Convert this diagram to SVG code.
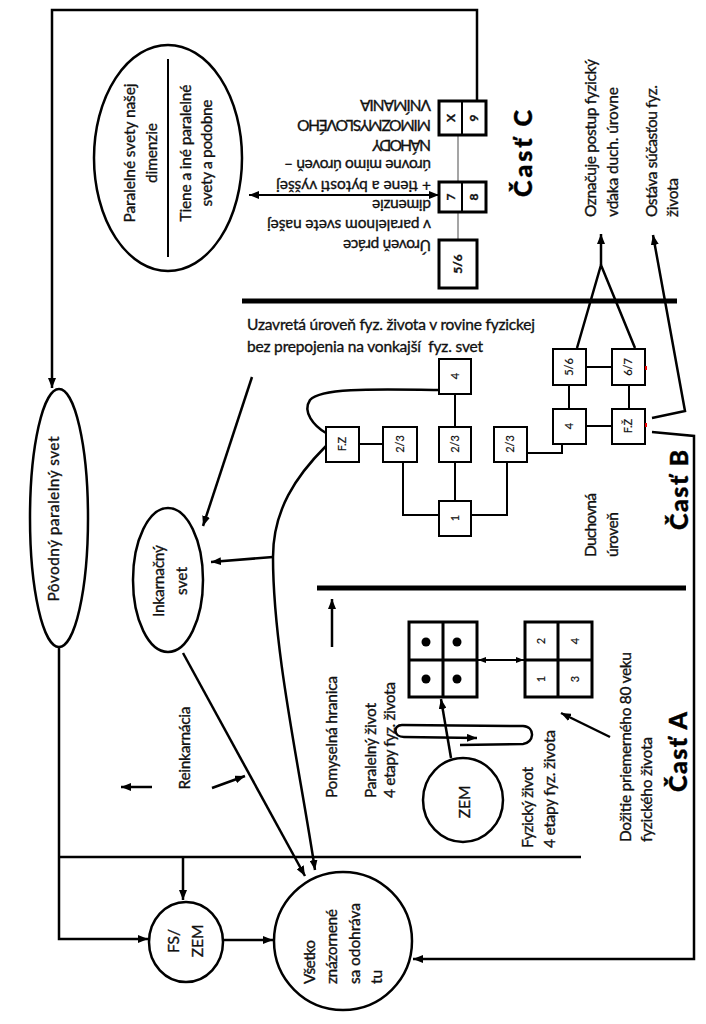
<svg xmlns="http://www.w3.org/2000/svg" width="706" height="1024" viewBox="0 0 706 1024">
<defs>
<marker id="a" markerUnits="userSpaceOnUse" markerWidth="10" markerHeight="8" refX="10" refY="4" orient="auto-start-reverse" viewBox="0 0 10 8"><path d="M0,0L10,4L0,8z" fill="#000"/></marker>
<marker id="s" markerUnits="userSpaceOnUse" markerWidth="8" markerHeight="6" refX="8" refY="3" orient="auto-start-reverse" viewBox="0 0 8 6"><path d="M0,0L8,3L0,6z" fill="#000"/></marker>
</defs>
<style>
.t{font-family:Lato,"Liberation Sans",sans-serif;font-size:15.5px;fill:#111;stroke:#111;stroke-width:0.35}
.h{font-weight:900;font-size:25px;fill:#000;stroke:#000;stroke-width:0.4}
.bl{font-size:11px;stroke-width:0.2}
.bc{font-size:12px;font-weight:bold}
.ln{fill:none;stroke:#000;stroke-width:2}
.lw{fill:none;stroke:#000;stroke-width:2.5}
.thk{fill:none;stroke:#000;stroke-width:5}
.gr{fill:none;stroke:#888;stroke-width:1.5}
.box{fill:#fff;stroke:#000;stroke-width:2}
.boxc{fill:#fff;stroke:#000;stroke-width:3}
.el{fill:#fff;stroke:#000;stroke-width:2.5}
</style>
<rect width="706" height="1024" fill="#fff"/>

<g id="connectors">
<path class="lw" d="M477,101L477,10L52,10L52,388" marker-end="url(#a)"/>
<path class="ln" d="M249,195L439,195" marker-start="url(#a)" marker-end="url(#a)"/>
<path class="gr" d="M458,135L458,182M458,212L458,240"/>
<path class="thk" d="M242,301L677,301"/>
<path class="lw" d="M577,348L601,265L635,348"/>
<path class="lw" d="M601,265L601,234" marker-end="url(#a)"/>
<path class="lw" d="M652,418L685,411L653,235" marker-end="url(#a)"/>
<path class="lw" d="M652,432L694,436L694,959L413,959" marker-end="url(#a)"/>
<path class="ln" d="M359,444L383,444M455,394L455,427M455,462L455,501M403,462L403,515L439,515M507,462L507,515L471,515M527,453L562,453L562,444M586,426L612,426M569,409L569,385M629,409L629,385M586,367L612,367"/>
<path class="lw" d="M438,390C370,389 320,388 310,400C302,412 314,426 326,433"/>
<path class="lw" d="M326,446C296,476 273,510 273,557C273,650 300,770 315,870" marker-end="url(#a)"/>
<path class="lw" d="M273,557L211,562" marker-end="url(#a)"/>
<path class="lw" d="M252,377L203,526" marker-end="url(#a)"/>
<path class="lw" d="M183,653L305,876" marker-end="url(#a)"/>
<path class="lw" d="M59,647L59,939L148,939" marker-end="url(#a)"/>
<path class="lw" d="M59,857L581,857"/>
<path class="lw" d="M183,857L183,900" marker-end="url(#a)"/>
<path class="lw" d="M223,940L273,940" marker-end="url(#a)"/>
<path class="thk" d="M317,588L686,588"/>
<path class="lw" d="M332,647L332,599" marker-end="url(#a)"/>
<path class="ln" d="M478,660L524,660" marker-start="url(#s)" marker-end="url(#s)"/>
<path class="lw" d="M451,758L441,699" marker-end="url(#a)"/>
<path class="lw" d="M460,745L523,744C534,743 536,727 523,726L402,725C393,725 393,737 404,737L477,738" marker-end="url(#a)"/>
<path class="lw" d="M610,737L561,713" marker-end="url(#a)"/>
<path class="lw" d="M152,787L121,787" marker-end="url(#a)"/>
<path class="lw" d="M212,788L245,776" marker-end="url(#a)"/>
</g>

<g id="paralelne-svety">
<ellipse class="el" cx="168" cy="158" rx="74" ry="113"/>
<path class="ln" d="M168,59L168,257"/>
<text class="t" transform="translate(135,153) rotate(-90)" text-anchor="middle" textLength="139">Paralelné svety našej</text>
<text class="t" transform="translate(157,153) rotate(-90)" text-anchor="middle" textLength="60">dimenzie</text>
<text class="t" transform="translate(191,153) rotate(-90)" text-anchor="middle" textLength="137">Tiene a iné paralelné</text>
<text class="t" transform="translate(212,153) rotate(-90)" text-anchor="middle" textLength="107">svety a podobne</text>
</g>

<g id="box-x9">
<rect class="boxc" x="439" y="101" width="47" height="34"/>
<path class="ln" d="M462,101L462,135"/>
<text class="t bc" transform="translate(455,118) rotate(-90)" text-anchor="middle">X</text>
<text class="t bc" transform="translate(478,118) rotate(-90)" text-anchor="middle">9</text>
</g>
<g id="box-78">
<rect class="boxc" x="439" y="182" width="47" height="30"/>
<path class="ln" d="M462,182L462,212"/>
<text class="t bc" transform="translate(455,197) rotate(-90)" text-anchor="middle">7</text>
<text class="t bc" transform="translate(478,197) rotate(-90)" text-anchor="middle">8</text>
</g>
<g id="box-c56">
<rect class="boxc" x="439" y="240" width="38" height="48"/>
<text class="t bc" transform="translate(462,264) rotate(-90)" text-anchor="middle">5/6</text>
</g>
<g id="text-cast-c">
<text class="t" transform="translate(431,100) rotate(180)" textLength="71">VNÍMANIA</text>
<text class="t" transform="translate(431,120) rotate(180)" textLength="134">MIMOZMYSLOVÉHO</text>
<text class="t" transform="translate(431,140) rotate(180)" textLength="59">NÁHODY</text>
<text class="t" transform="translate(431,160) rotate(180)" textLength="147">úrovne mimo úroveň –</text>
<text class="t" transform="translate(431,181) rotate(180)" textLength="155">+ tiene a bytosti vyššej</text>
<text class="t" transform="translate(431,200) rotate(180)" textLength="59">dimenzie</text>
<text class="t" transform="translate(431,220) rotate(180)" textLength="164">v paralelnom svete našej</text>
<text class="t" transform="translate(431,240) rotate(180)" textLength="88">Úroveň práce</text>
<text class="t h" transform="translate(532,197) rotate(-90)" textLength="87">Časť C</text>
</g>
<g id="text-oznacuje">
<text class="t" transform="translate(596,217) rotate(-90)" textLength="158">Označuje postup fyzický</text>
<text class="t" transform="translate(618,217) rotate(-90)" textLength="130">vďaka duch. úrovne</text>
</g>
<g id="text-ostava">
<text class="t" transform="translate(657,217) rotate(-90)" textLength="132">Ostáva súčasťou fyz.</text>
<text class="t" transform="translate(678,217) rotate(-90)" textLength="39">života</text>
</g>
<g id="text-uzavreta">
<text class="t" x="247" y="330" textLength="288">Uzavretá úroveň fyz. života v rovine fyzickej</text>
<text class="t" x="247" y="352" textLength="236" xml:space="preserve" style="white-space:pre">bez prepojenia na vonkajší  fyz. svet</text>
</g>

<g id="box-fz"><rect class="box" x="326" y="427" width="33" height="35"/><text class="t bl" transform="translate(346,444) rotate(-90)" text-anchor="middle">F.Z</text></g>
<g id="box-23a"><rect class="box" x="383" y="427" width="34" height="35"/><text class="t bl" transform="translate(404,444) rotate(-90)" text-anchor="middle">2/3</text></g>
<g id="box-23b"><rect class="box" x="439" y="427" width="32" height="35"/><text class="t bl" transform="translate(459,444) rotate(-90)" text-anchor="middle">2/3</text></g>
<g id="box-23c"><rect class="box" x="494" y="427" width="33" height="35"/><text class="t bl" transform="translate(514,444) rotate(-90)" text-anchor="middle">2/3</text></g>
<g id="box-4top"><rect class="box" x="439" y="359" width="32" height="35"/><text class="t bl" transform="translate(459,376) rotate(-90)" text-anchor="middle">4</text></g>
<g id="box-1"><rect class="box" x="439" y="501" width="32" height="35"/><text class="t bl" transform="translate(459,518) rotate(-90)" text-anchor="middle">1</text></g>
<g id="box-4r"><rect class="box" x="553" y="409" width="33" height="35"/><text class="t bl" transform="translate(573,426) rotate(-90)" text-anchor="middle">4</text></g>
<g id="box-fzh"><rect class="box" x="612" y="409" width="33" height="35"/><text class="t bl" transform="translate(632,426) rotate(-90)" text-anchor="middle">F.Ž</text><rect x="645" y="423" width="2" height="4" fill="#e00"/></g>
<g id="box-56"><rect class="box" x="553" y="349" width="33" height="36"/><text class="t bl" transform="translate(573,367) rotate(-90)" text-anchor="middle">5/6</text></g>
<g id="box-67"><rect class="box" x="612" y="349" width="33" height="36"/><text class="t bl" transform="translate(632,367) rotate(-90)" text-anchor="middle">6/7</text><rect x="645" y="366" width="2" height="4" fill="#e00"/></g>
<g id="text-cast-b">
<text class="t" transform="translate(596,557) rotate(-90)" textLength="64">Duchovná</text>
<text class="t" transform="translate(618,557) rotate(-90)" textLength="45">úroveň</text>
<text class="t h" transform="translate(688,530) rotate(-90)" textLength="80">Časť B</text>
</g>

<g id="povodny">
<ellipse class="el" cx="59" cy="518" rx="29" ry="129"/>
<text class="t" transform="translate(59,519) rotate(-90)" text-anchor="middle" textLength="165">Pôvodný paralelný svet</text>
</g>
<g id="inkarnacny">
<ellipse class="el" cx="168" cy="580" rx="35" ry="72"/>
<text class="t" transform="translate(164,581) rotate(-90)" text-anchor="middle" textLength="72">Inkarnačný</text>
<text class="t" transform="translate(187,581) rotate(-90)" text-anchor="middle" textLength="28">svet</text>
</g>
<g id="reinkarnacia">
<text class="t" transform="translate(190,748) rotate(-90)" text-anchor="middle" textLength="83">Reinkarnácia</text>
</g>
<g id="fs-zem">
<ellipse class="el" cx="186" cy="942" rx="37" ry="40"/>
<text class="t" transform="translate(179,941) rotate(-90)" text-anchor="middle">FS/</text>
<text class="t" transform="translate(203,941) rotate(-90)" text-anchor="middle">ZEM</text>
</g>
<g id="vsetko">
<circle class="el" cx="343" cy="941" r="69"/>
<text class="t" transform="translate(315,984) rotate(-90)" textLength="44">Všetko</text>
<text class="t" transform="translate(337,984) rotate(-90)" textLength="75">znázornené</text>
<text class="t" transform="translate(360,984) rotate(-90)" textLength="81">sa odohráva</text>
<text class="t" transform="translate(382,984) rotate(-90)">tu</text>
</g>

<g id="text-pomyselna">
<text class="t" transform="translate(337,798) rotate(-90)" textLength="122">Pomyselná hranica</text>
</g>
<g id="text-paralelny">
<text class="t" transform="translate(376,798) rotate(-90)" textLength="95">Paralelný život</text>
<text class="t" transform="translate(395,798) rotate(-90)" textLength="116">4 etapy fyz. života</text>
</g>
<g id="grid-dots">
<rect class="boxc" x="409" y="622" width="68" height="75"/>
<path class="lw" d="M443,622L443,697M409,660L477,660" style="stroke-width:3"/>
<circle cx="426" cy="642" r="4.5"/><circle cx="457" cy="642" r="4.5"/><circle cx="426" cy="679" r="4.5"/><circle cx="457" cy="679" r="4.5"/>
</g>
<g id="grid-num">
<rect class="boxc" x="525" y="622" width="67" height="75"/>
<path class="lw" d="M558,622L558,697M525,660L592,660" style="stroke-width:3"/>
<text class="t bl" transform="translate(545,641) rotate(-90)" text-anchor="middle">2</text>
<text class="t bl" transform="translate(579,641) rotate(-90)" text-anchor="middle">4</text>
<text class="t bl" transform="translate(545,679) rotate(-90)" text-anchor="middle">1</text>
<text class="t bl" transform="translate(579,679) rotate(-90)" text-anchor="middle">3</text>
</g>
<g id="zem">
<ellipse class="el" cx="463" cy="800" rx="40" ry="42"/>
<text class="t" transform="translate(470,802) rotate(-90)" text-anchor="middle">ZEM</text>
</g>
<g id="text-fyzicky">
<text class="t" transform="translate(533,848) rotate(-90)" textLength="81">Fyzický život</text>
<text class="t" transform="translate(555,848) rotate(-90)" textLength="118">4 etapy fyz. života</text>
</g>
<g id="text-dozitie">
<text class="t" transform="translate(631,842) rotate(-90)" textLength="190">Dožitie priemerného 80 veku</text>
<text class="t" transform="translate(652,842) rotate(-90)" textLength="105">fyzického života</text>
</g>
<g id="text-cast-a">
<text class="t h" transform="translate(687,792) rotate(-90)" textLength="80">Časť A</text>
</g>
</svg>
